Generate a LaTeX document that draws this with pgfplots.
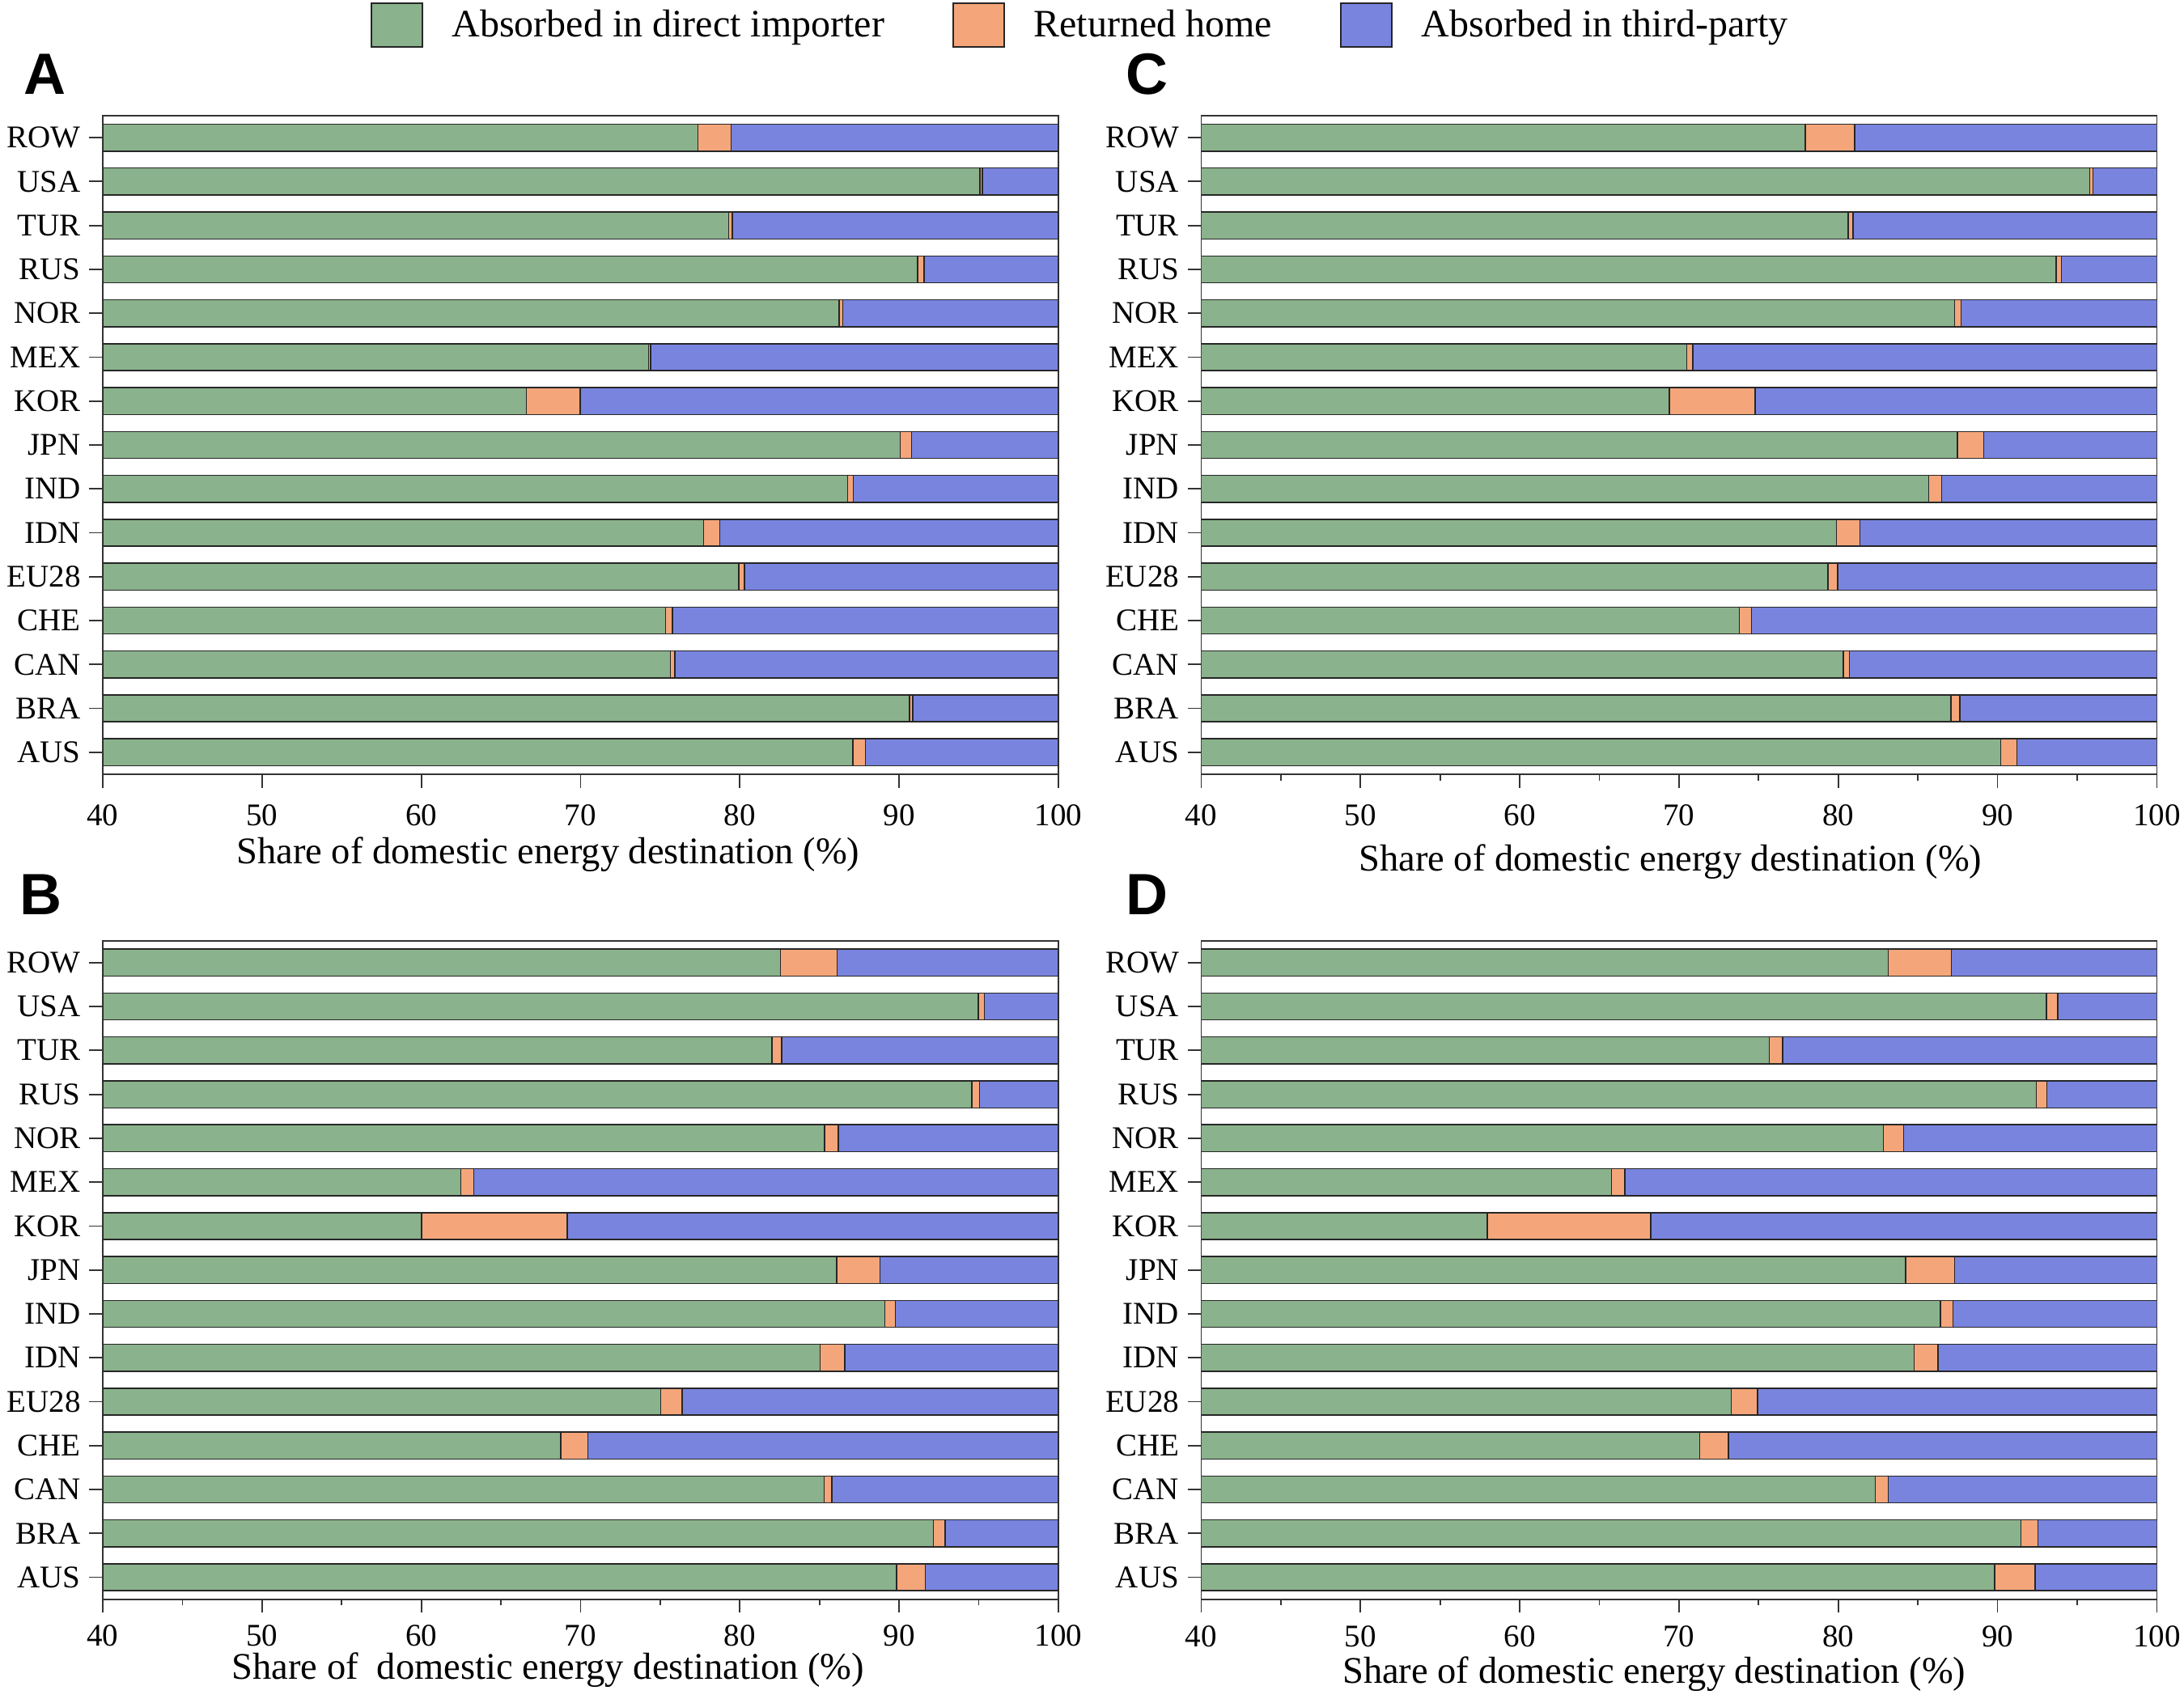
\documentclass[border=0pt]{standalone}
\usepackage{fontspec}
\setmainfont{Liberation Serif}
\newfontfamily\panelfont{Liberation Sans}
\usepackage{pgfplots}
\usepackage{pgfplotstable}
\pgfplotsset{compat=1.18}

\definecolor{cdirect}{RGB}{138,178,140}
\definecolor{chome}{RGB}{244,166,122}
\definecolor{cthird}{RGB}{121,132,223}

% y: 0 = AUS ... 14 = ROW ; shares in %
\pgfplotstableread{
y direct home third
0  87.09 0.80 12.11
1  90.64 0.21  9.15
2  75.64 0.27 24.09
3  75.34 0.42 24.24
4  79.93 0.36 19.71
5  77.73 1.01 21.26
6  86.76 0.36 12.88
7  90.07 0.72  9.21
8  66.60 3.37 30.03
9  74.27 0.12 25.61
10 86.23 0.23 13.54
11 91.15 0.41  8.44
12 79.31 0.21 20.48
13 95.08 0.15  4.77
14 77.37 2.09 20.54
}\dataA

\pgfplotstableread{
y direct home third
0  89.83 1.82  8.35
1  92.16 0.74  7.10
2  85.30 0.48 14.22
3  68.75 1.70 29.55
4  75.04 1.34 23.62
5  85.03 1.55 13.42
6  89.09 0.68 10.23
7  86.08 2.71 11.21
8  60.01 9.16 30.83
9  62.49 0.80 36.71
10 85.33 0.84 13.83
11 94.57 0.48  4.95
12 82.02 0.60 17.38
13 94.96 0.39  4.65
14 82.56 3.55 13.89
}\dataB

\pgfplotstableread{
y direct home third
0  90.20 1.02  8.78
1  87.07 0.57 12.36
2  80.33 0.36 19.31
3  73.80 0.75 25.45
4  79.35 0.62 20.03
5  79.88 1.49 18.63
6  85.67 0.83 13.50
7  87.49 1.64 10.87
8  69.39 5.39 25.22
9  70.49 0.39 29.12
10 87.31 0.39 12.30
11 93.69 0.33  5.98
12 80.63 0.30 19.07
13 95.78 0.21  4.01
14 77.92 3.10 18.98
}\dataC

\pgfplotstableread{
y direct home third
0  89.81  2.54  7.65
1  91.48  1.05  7.47
2  82.33  0.80 16.87
3  71.30  1.81 26.89
4  73.29  1.64 25.07
5  84.77  1.50 13.73
6  86.41  0.78 12.81
7  84.24  3.07 12.69
8  57.97 10.25 31.78
9  65.75  0.86 33.39
10 82.84  1.25 15.91
11 92.44  0.65  6.91
12 75.68  0.83 23.49
13 93.06  0.72  6.22
14 83.13  3.97 12.90
}\dataD

\pgfplotsset{
  panel/.style={
    scale only axis, width=393.67pt, height=271.33pt,
    anchor=south west,
    xmin=40, xmax=100, ymin=-0.5, ymax=14.5,
    xbar stacked, bar width=11.1pt,
    ytick={0,...,14},
    yticklabels={AUS,BRA,CAN,CHE,EU28,IDN,IND,JPN,KOR,MEX,NOR,RUS,TUR,USA,ROW},
    xtick={40,50,...,100},
    /pgf/number format/assume math mode=true,
    tick align=outside, major tick length=5.6pt, minor tick length=2.6pt,
    xtick pos=bottom, ytick pos=left,
    tick label style={font=\fontsize{13}{13}\selectfont},
    xlabel style={font=\fontsize{15.5}{15.5}\selectfont, anchor=base},
    axis line style={black!80, line width=0.6pt},
    tick style={black!80, line width=0.6pt},
  },
  seg/.style={fill=#1, draw=black!85, line width=0.5pt},
  legpatch/.style={legend image code/.code={\draw[##1] (0pt,-9pt) rectangle (21pt,9pt);}},
}

\newcommand{\bars}[1]{%
  \addplot[seg=cdirect] table[x=direct, y=y] {#1};
  \addplot[seg=chome] table[x=home, y=y] {#1};
  \addplot[seg=cthird] table[x=third, y=y] {#1};
}

\begin{document}
\begin{tikzpicture}
\useasboundingbox (0,0) rectangle (899.67pt,700pt);

% A
\begin{axis}[panel, at={(42.33pt,381pt)},
  xticklabel style={yshift=-3.4pt},
  xlabel={Share of domestic energy destination (\%)},
  xlabel style={at={(axis description cs:0.466,0)}, yshift=-37pt},
  legend columns=3,
  legend style={at={(axis description cs:1.0246,1.1376)}, anchor=center,
    draw=none, fill=none, font=\fontsize{16}{16}\selectfont,
    /tikz/every even column/.append style={column sep=26pt},
    /tikz/every odd column/.append style={column sep=10pt}},
  legend cell align=left]
  \addplot[seg=cdirect, legpatch] table[x=direct, y=y] {\dataA};
  \addplot[seg=chome, legpatch] table[x=home, y=y] {\dataA};
  \addplot[seg=cthird, legpatch] table[x=third, y=y] {\dataA};
  \legend{Absorbed in direct importer, Returned home, Absorbed in third-party}
\end{axis}

% B
\begin{axis}[panel, at={(42.33pt,41.1pt)},
  minor x tick num=1,
  xticklabel style={yshift=-1.6pt},
  xlabel={Share of\ \ domestic energy destination (\%)},
  xlabel style={at={(axis description cs:0.466,0)}, yshift=-33pt}]
  \bars{\dataB}
\end{axis}

% C
\begin{axis}[panel, at={(494.8pt,381pt)},
  minor x tick num=1,
  xticklabel style={yshift=-3.4pt},
  xlabel={Share of domestic energy destination (\%)},
  xlabel style={at={(axis description cs:0.491,0)}, yshift=-39.7pt}]
  \bars{\dataC}
\end{axis}

% D
\begin{axis}[panel, at={(494.8pt,41.1pt)},
  minor x tick num=1,
  xticklabel style={yshift=-1.8pt},
  xlabel={Share of domestic energy destination (\%)},
  xlabel style={at={(axis description cs:0.474,0)}, yshift=-34.5pt}]
  \bars{\dataD}
\end{axis}

\begin{scope}[every node/.style={anchor=base west, inner sep=0pt,
    font=\panelfont\bfseries\fontsize{24}{24}\selectfont}]
  \node at (9.7pt,661pt) {A};
  \node at (8pt,323pt) {B};
  \node at (463.7pt,661pt) {C};
  \node at (463.7pt,323pt) {D};
\end{scope}
\end{tikzpicture}
\end{document}
